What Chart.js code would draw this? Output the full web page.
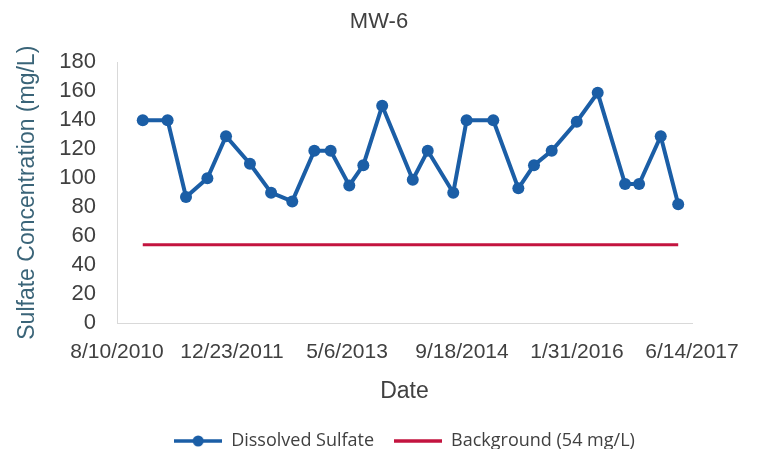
<!DOCTYPE html>
<html>
<head>
<meta charset="utf-8">
<script src="https://cdn.jsdelivr.net/npm/chart.js"></script>
<style>
  html, body { margin: 0; padding: 0; background: #fff; }
  #wrap { width: 760px; height: 449px; }
</style>
</head>
<body>
<div id="wrap"><canvas id="mw6Chart" width="760" height="449"></canvas></div>
<script>
  // sample dates and dissolved sulfate (mg/L)
  const sampleDates = [
    "2010-11-30", "2011-03-18", "2011-06-06", "2011-09-07", "2011-11-27",
    "2012-03-10", "2012-06-10", "2012-09-10", "2012-12-15", "2013-02-24",
    "2013-05-16", "2013-07-16", "2013-10-06", "2014-02-16", "2014-04-22",
    "2014-08-11", "2014-10-08", "2015-02-01", "2015-05-21", "2015-07-28",
    "2015-10-13", "2016-01-30", "2016-04-30", "2016-08-27", "2016-10-27",
    "2017-01-29", "2017-04-15"
  ];
  const sulfate = [
    140, 140, 87, 100, 129,
    110, 90, 84, 119, 119,
    95, 109, 150, 99, 119,
    90, 140, 140, 93, 109,
    119, 139, 159, 96, 96,
    129, 82
  ];
  const backgroundLevel = 54;
  const xTickDates = ["2010-08-10", "2011-12-23", "2013-05-06", "2014-09-18", "2016-01-31", "2017-06-14"];
  const yTicks = [0, 20, 40, 60, 80, 100, 120, 140, 160, 180];

  const blue = "#1b5ea6";
  const red = "#c3143f";
  const textGray = "#404040";

  function toMs(s) {
    const p = s.split("-");
    return Date.UTC(+p[0], +p[1] - 1, +p[2]);
  }
  function fmtDate(ms) {
    const d = new Date(ms);
    return (d.getUTCMonth() + 1) + "/" + d.getUTCDate() + "/" + d.getUTCFullYear();
  }

  // legend markers: line with dot, plain line
  function lineMarker(withDot, color) {
    const c = document.createElement("canvas");
    c.width = 48; c.height = 14;
    const g = c.getContext("2d");
    g.strokeStyle = color; g.lineWidth = 3.5;
    g.beginPath(); g.moveTo(0, 7); g.lineTo(48, 7); g.stroke();
    if (withDot) {
      g.fillStyle = color;
      g.beginPath(); g.arc(24, 7, 5.5, 0, Math.PI * 2); g.fill();
    }
    return c;
  }
  const markers = [lineMarker(true, blue), lineMarker(false, red)];

  const sulfatePoints = sampleDates.map((d, i) => ({ x: toMs(d), y: sulfate[i] }));
  const bgPoints = [
    { x: toMs(sampleDates[0]), y: backgroundLevel },
    { x: toMs(sampleDates[sampleDates.length - 1]), y: backgroundLevel }
  ];

  new Chart(document.getElementById("mw6Chart"), {
    type: "line",
    data: {
      datasets: [
        {
          label: "Dissolved Sulfate",
          data: sulfatePoints,
          borderColor: blue,
          backgroundColor: blue,
          borderWidth: 4,
          pointRadius: 6,
          pointBorderWidth: 0,
          pointBackgroundColor: blue,
          tension: 0
        },
        {
          label: "Background (54 mg/L)",
          data: bgPoints,
          borderColor: red,
          backgroundColor: red,
          borderWidth: 3,
          pointRadius: 0
        }
      ]
    },
    options: {
      responsive: false,
      animation: false,
      layout: { padding: { left: 8, right: 10, top: 0, bottom: -11 } },
      plugins: {
        title: {
          display: true,
          text: "MW-6",
          color: textGray,
          font: { family: "Liberation Sans", size: 22, weight: "normal" },
          padding: { top: 9, bottom: 27 }
        },
        legend: {
          position: "bottom",
          fullSize: false,
          labels: {
            usePointStyle: true,
            pointStyleWidth: 48,
            padding: 20,
            color: textGray,
            font: { family: "Open Sans", size: 18 },
            generateLabels(chart) {
              const items = Chart.defaults.plugins.legend.labels.generateLabels(chart);
              items.forEach((it, i) => { it.pointStyle = markers[i]; });
              return items;
            }
          }
        },
        tooltip: { enabled: false }
      },
      scales: {
        x: {
          type: "linear",
          min: toMs(xTickDates[0]),
          max: toMs(xTickDates[xTickDates.length - 1]),
          afterBuildTicks(scale) {
            scale.ticks = xTickDates.map(d => ({ value: toMs(d) }));
          },
          afterFit(scale) {
            scale.height = 89;
            scale.paddingRight = 68; // room on the right of the plot area
          },
          grid: { display: false, drawTicks: false },
          border: { display: true, color: "#d9d9d9", width: 1 },
          ticks: {
            color: textGray,
            padding: 17,
            maxRotation: 0,
            autoSkip: false,
            font: { family: "Liberation Sans", size: 21 },
            callback: v => fmtDate(v)
          },
          title: {
            display: true,
            text: "Date",
            color: textGray,
            font: { family: "Liberation Sans", size: 23 },
            padding: { top: 4, bottom: 7 }
          }
        },
        y: {
          min: 0,
          max: 180,
          afterBuildTicks(scale) {
            scale.ticks = yTicks.map(v => ({ value: v }));
          },
          afterFit(scale) { scale.width = 109; },
          grid: { display: false, drawTicks: false },
          border: { display: true, color: "#d9d9d9", width: 1 },
          ticks: {
            color: textGray,
            padding: 21,
            autoSkip: false,
            font: { family: "Liberation Sans", size: 22 }
          },
          title: {
            display: true,
            text: "Sulfate Concentration (mg/L)",
            color: "#3a6478",
            font: { family: "Liberation Sans", size: 23 },
            padding: { top: 6, bottom: 4 }
          }
        }
      }
    }
  });
</script>
</body>
</html>
